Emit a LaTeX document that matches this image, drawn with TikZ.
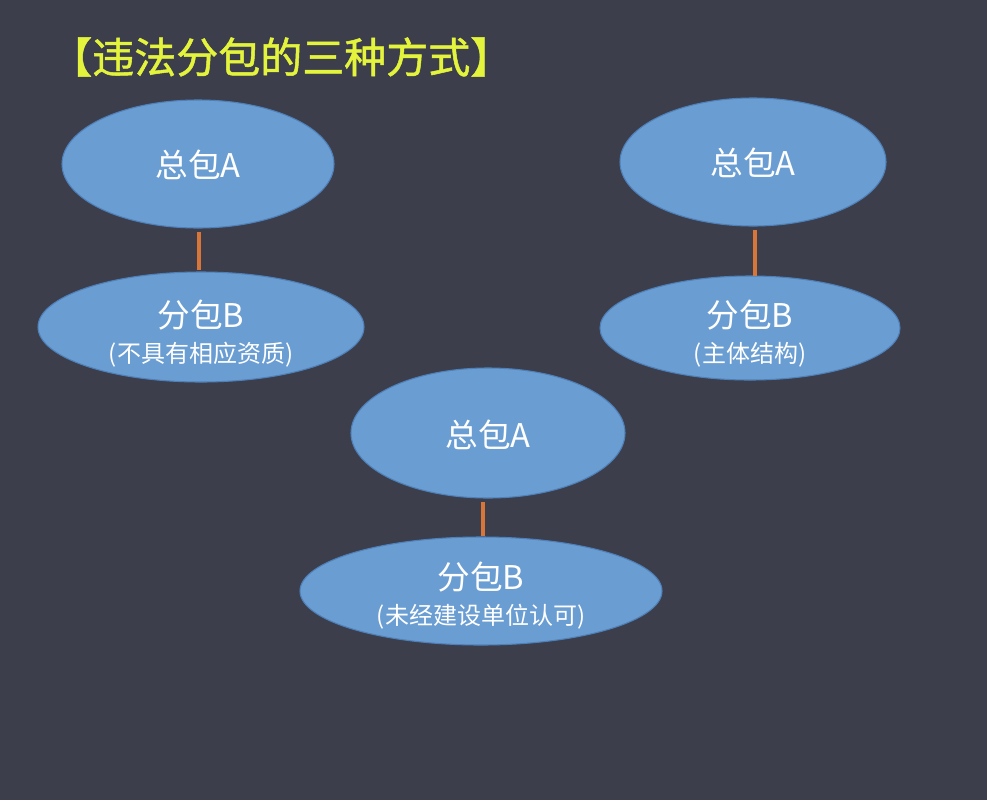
\documentclass[tikz,border=0pt]{standalone}
\usepackage{fontspec}
\newfontfamily\cjk{Noto Sans CJK SC}
\newfontfamily\cjkb[FakeBold=1.2]{Noto Sans CJK SC}
\definecolor{bgc}{HTML}{3C3F4B}
\definecolor{ellfill}{HTML}{6A9DD2}
\definecolor{elledge}{HTML}{4F80BA}
\definecolor{linec}{HTML}{D8763A}
\definecolor{titlec}{HTML}{E4F43C}
\begin{document}
\begin{tikzpicture}[x=0.75pt,y=-0.75pt,
  ell/.style={draw=elledge,line width=0.8pt,fill=ellfill},
  bigtxt/.style={text=white,font=\cjk\fontsize{24.5}{28}\selectfont,inner sep=0pt},
  smalltxt/.style={text=white,font=\cjk\fontsize{18}{21}\selectfont,inner sep=0pt},
  link/.style={draw=linec,line width=2.6pt}]
\fill[bgc] (0,0) rectangle (987,800);
\useasboundingbox (0,0) rectangle (987,800);
\node[text=titlec,font=\cjkb\fontsize{31.5}{36}\selectfont,anchor=west,inner sep=0pt] (title) at (50,57) {【违法分包的三种方式】};
% left
\draw[ell] (198,164) ellipse [x radius=136, y radius=64];
\node[bigtxt] (a1) at (198,165) {总包A};
\draw[ell] (201,327) ellipse [x radius=163, y radius=55];
\node[bigtxt] (b1) at (201,315) {分包B};
\node[smalltxt] (c1) at (201,355) {(不具有相应资质)};
\coordinate (l1a) at (199,232); \coordinate (l1b) at (199,270);
\draw[link] (l1a) -- (l1b);
% right
\draw[ell] (753,162) ellipse [x radius=133, y radius=64];
\node[bigtxt] (a2) at (753,163) {总包A};
\draw[ell] (750,328) ellipse [x radius=150, y radius=52];
\node[bigtxt] (b2) at (750,315) {分包B};
\node[smalltxt] (c2) at (750,355) {(主体结构)};
\coordinate (l2a) at (755,230); \coordinate (l2b) at (755,276);
\draw[link] (l2a) -- (l2b);
% middle
\draw[ell] (488,433) ellipse [x radius=137, y radius=65];
\node[bigtxt] (a3) at (488,435) {总包A};
\draw[ell] (481,591) ellipse [x radius=181, y radius=54];
\node[bigtxt] (b3) at (481,577) {分包B};
\node[smalltxt] (c3) at (481,617) {(未经建设单位认可)};
\coordinate (l3a) at (483,502); \coordinate (l3b) at (483,536);
\draw[link] (l3a) -- (l3b);
\end{tikzpicture}
\end{document}
